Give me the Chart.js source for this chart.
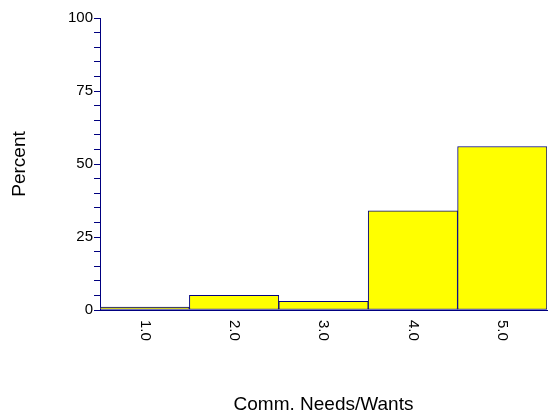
<!DOCTYPE html>
<html>
<head>
<meta charset="utf-8">
<script src="https://cdn.jsdelivr.net/npm/chart.js@4/dist/chart.umd.min.js"></script>
<style>
html,body{margin:0;padding:0;background:#fff;}
#wrap{width:548px;height:419px;position:relative;}
</style>
</head>
<body>
<div id="wrap"><canvas id="c" width="548" height="419"></canvas></div>
<script>
const categories = ['1.0', '2.0', '3.0', '4.0', '5.0'];
const percentValues = [1, 5, 3, 34, 56];
const yMajorTicks = [0, 25, 50, 75, 100];
const xTitle = 'Comm. Needs/Wants';
const yTitle = 'Percent';

const AXIS = '#000080';
const FONT = "'Liberation Sans', Arial, sans-serif";

const rotatedLabels = {
  id: 'rotatedLabels',
  afterDraw(chart) {
    const xs = chart.scales.x;
    const ctx = chart.ctx;
    ctx.save();
    ctx.fillStyle = '#000';
    ctx.font = '15px ' + FONT;
    ctx.textAlign = 'left';
    ctx.textBaseline = 'middle';
    categories.forEach((lab, i) => {
      const x = xs.getPixelForTick(i);
      ctx.save();
      ctx.translate(x, chart.chartArea.bottom + 10);
      ctx.rotate(Math.PI / 2);
      ctx.fillText(lab, 0, 0);
      ctx.restore();
    });
    ctx.restore();
  }
};

new Chart(document.getElementById('c'), {
  type: 'bar',
  data: {
    labels: categories,
    datasets: [{
      data: percentValues,
      backgroundColor: '#ffff00',
      borderColor: AXIS,
      borderWidth: 1,
      borderSkipped: false,
      categoryPercentage: 1,
      barPercentage: 1
    }]
  },
  options: {
    responsive: false,
    animation: false,
    devicePixelRatio: 1,
    layout: { padding: { top: 18, right: 1, left: 0, bottom: 0 } },
    plugins: { legend: { display: false }, tooltip: { enabled: false } },
    scales: {
      x: {
        grid: { display: false, drawTicks: false },
        border: { display: true, color: AXIS, width: 1 },
        ticks: { display: false },
        title: {
          display: true, text: xTitle, color: '#000',
          font: { family: FONT, size: 19 },
          padding: { top: 0, bottom: 3 }
        },
        afterFit(s) { s.height = 109; }
      },
      y: {
        min: 0, max: 100,
        grid: { drawOnChartArea: false, drawTicks: true, tickLength: 6, color: AXIS },
        border: { display: true, color: AXIS, width: 1 },
        ticks: {
          stepSize: 5,
          autoSkip: false,
          padding: 1,
          color: '#000',
          font: { family: FONT, size: 15 },
          callback: (v) => yMajorTicks.includes(v) ? String(v) : ''
        },
        title: {
          display: true, text: yTitle, color: '#000',
          font: { family: FONT, size: 19 },
          padding: { top: 8, bottom: 0 }
        },
        afterFit(s) { s.width = 100; }
      }
    }
  },
  plugins: [rotatedLabels]
});
</script>
</body>
</html>
